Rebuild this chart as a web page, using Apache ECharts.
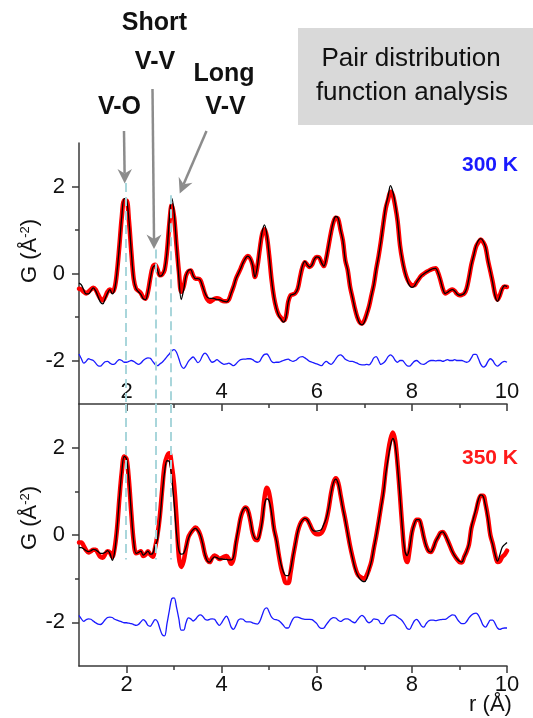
<!DOCTYPE html>
<html><head><meta charset="utf-8">
<script src="https://cdn.jsdelivr.net/npm/echarts@6/dist/echarts.min.js"></script>
<style>html,body{margin:0;padding:0;background:#fff}#c{width:533px;height:718px}</style>
</head><body><div id="c"></div>
<script>
// r grid (Å)
const R = [1,1.05,1.1,1.15,1.2,1.25,1.3,1.35,1.4,1.45,
1.5,1.55,1.6,1.65,1.7,1.75,1.8,1.85,1.9,1.95,
2,2.05,2.1,2.15,2.2,2.25,2.3,2.35,2.4,2.45,
2.5,2.55,2.6,2.65,2.7,2.75,2.8,2.85,2.9,2.95,
3,3.05,3.1,3.15,3.2,3.25,3.3,3.35,3.4,3.45,
3.5,3.55,3.6,3.65,3.7,3.75,3.8,3.85,3.9,3.95,
4,4.05,4.1,4.15,4.2,4.25,4.3,4.35,4.4,4.45,
4.5,4.55,4.6,4.65,4.7,4.75,4.8,4.85,4.9,4.95,
5,5.05,5.1,5.15,5.2,5.25,5.3,5.35,5.4,5.45,
5.5,5.55,5.6,5.65,5.7,5.75,5.8,5.85,5.9,5.95,
6,6.05,6.1,6.15,6.2,6.25,6.3,6.35,6.4,6.45,
6.5,6.55,6.6,6.65,6.7,6.75,6.8,6.85,6.9,6.95,
7,7.05,7.1,7.15,7.2,7.25,7.3,7.35,7.4,7.45,
7.5,7.55,7.6,7.65,7.7,7.75,7.8,7.85,7.9,7.95,
8,8.05,8.1,8.15,8.2,8.25,8.3,8.35,8.4,8.45,
8.5,8.55,8.6,8.65,8.7,8.75,8.8,8.85,8.9,8.95,
9,9.05,9.1,9.15,9.2,9.25,9.3,9.35,9.4,9.45,
9.5,9.55,9.6,9.65,9.7,9.75,9.8,9.85,9.9,9.95,
10];

// 300 K : measured G(r)
const data300 = [-0.35,-0.37,-0.42,-0.46,-0.42,-0.37,-0.33,-0.37,-0.48,-0.58,
-0.62,-0.54,-0.42,-0.37,-0.42,-0.33,0.05,0.65,1.3,1.68,
1.68,1.22,0.5,-0.12,-0.35,-0.4,-0.45,-0.55,-0.58,-0.42,
-0.1,0.15,0.2,0.1,-0.04,-0.02,0.08,0.5,1.15,1.58,
1.3,0.65,0.05,-0.42,-0.3,-0.05,0.05,0.07,-0.05,-0.12,
-0.12,-0.15,-0.3,-0.48,-0.6,-0.65,-0.62,-0.58,-0.57,-0.58,
-0.62,-0.64,-0.64,-0.6,-0.45,-0.3,-0.12,0.0,0.12,0.25,
0.35,0.4,0.35,0.2,-0.08,0.15,0.55,0.9,1.02,0.85,
0.4,-0.15,-0.55,-0.8,-0.95,-1.02,-1.08,-1.0,-0.65,-0.5,
-0.48,-0.45,-0.35,-0.08,0.15,0.26,0.2,0.15,0.2,0.33,
0.38,0.37,0.25,0.17,0.35,0.65,0.95,1.18,1.28,1.25,
1.0,0.75,0.3,0.08,-0.3,-0.55,-0.8,-1.0,-1.12,-1.15,
-1.08,-0.93,-0.75,-0.5,-0.25,0.1,0.4,0.75,1.15,1.5,
1.7,1.88,1.8,1.55,1.2,0.65,0.3,0.05,-0.12,-0.22,
-0.27,-0.27,-0.2,-0.12,-0.05,-0.01,0.03,0.06,0.09,0.11,
0.12,0.02,-0.15,-0.35,-0.46,-0.43,-0.39,-0.37,-0.4,-0.47,
-0.5,-0.49,-0.46,-0.35,-0.1,0.2,0.42,0.62,0.72,0.78,
0.72,0.6,0.3,0.05,-0.2,-0.48,-0.6,-0.5,-0.35,-0.3,
-0.31];

// 300 K : fit
const fit300 = [-0.22,-0.26,-0.38,-0.47,-0.47,-0.4,-0.33,-0.4,-0.53,-0.66,
-0.7,-0.58,-0.45,-0.37,-0.47,-0.36,0.05,0.65,1.32,1.72,
1.7,1.22,0.5,-0.12,-0.35,-0.42,-0.48,-0.58,-0.6,-0.42,
-0.12,0.13,0.18,0.08,-0.06,-0.03,0.1,0.5,1.25,1.73,
1.4,0.65,-0.1,-0.6,-0.38,-0.05,0.07,0.09,-0.05,-0.12,
-0.12,-0.15,-0.3,-0.45,-0.55,-0.57,-0.57,-0.58,-0.6,-0.6,
-0.62,-0.64,-0.65,-0.6,-0.45,-0.3,-0.12,0.0,0.12,0.25,
0.35,0.4,0.35,0.2,-0.08,0.15,0.58,0.95,1.12,0.9,
0.4,-0.15,-0.55,-0.8,-0.97,-1.05,-1.12,-1.02,-0.65,-0.5,
-0.48,-0.45,-0.35,-0.08,0.18,0.28,0.2,0.15,0.2,0.33,
0.38,0.37,0.25,0.17,0.35,0.65,0.95,1.2,1.31,1.27,
1.0,0.75,0.3,0.08,-0.3,-0.55,-0.8,-1.0,-1.14,-1.18,
-1.12,-0.95,-0.75,-0.5,-0.25,0.1,0.4,0.75,1.15,1.55,
1.78,2.02,1.88,1.6,1.2,0.65,0.3,0.05,-0.15,-0.28,
-0.32,-0.29,-0.2,-0.12,-0.05,-0.01,0.03,0.06,0.09,0.11,
0.12,0.02,-0.15,-0.35,-0.46,-0.43,-0.39,-0.37,-0.4,-0.47,
-0.5,-0.49,-0.46,-0.35,-0.1,0.2,0.42,0.64,0.76,0.8,
0.74,0.6,0.3,0.05,-0.22,-0.52,-0.64,-0.52,-0.35,-0.28,
-0.3];

// 300 K : difference (offset)
const diff300 = [-1.85,-1.96,-2.06,-2.02,-1.96,-1.98,-2.0,-2.06,-2.12,-2.13,
-2.08,-2.03,-2.02,-2.06,-2.09,-2.08,-2.02,-1.98,-2.0,-2.04,
-2.04,-2.02,-2.0,-2.02,-2.06,-2.09,-2.06,-2.0,-1.96,-1.94,
-1.95,-2.02,-2.09,-2.12,-2.08,-2.04,-1.98,-1.91,-1.85,-1.78,
-1.75,-1.81,-1.96,-2.12,-2.18,-2.12,-2.02,-1.96,-1.92,-1.98,
-2.05,-2.0,-1.88,-1.83,-1.88,-1.98,-2.04,-2.02,-1.98,-2.02,
-2.06,-2.09,-2.08,-2.06,-2.09,-2.12,-2.08,-2.02,-1.98,-1.97,
-1.97,-1.96,-1.96,-1.98,-2.02,-2.04,-2.02,-1.92,-1.86,-1.85,
-1.92,-2.02,-2.05,-2.04,-2.04,-2.02,-2.0,-1.98,-1.97,-2.0,
-2.02,-2.0,-1.96,-1.92,-1.91,-1.94,-1.98,-2.02,-2.04,-2.06,
-2.08,-2.1,-2.12,-2.06,-2.02,-2.06,-2.09,-2.04,-1.96,-1.89,
-1.87,-1.91,-1.97,-2.0,-2.02,-2.02,-2.04,-2.06,-2.09,-2.1,
-2.1,-2.09,-2.1,-2.04,-1.94,-1.91,-2.0,-2.09,-2.06,-2.0,
-1.91,-1.87,-1.91,-2.0,-2.04,-2.0,-2.0,-2.06,-2.12,-2.13,
-2.08,-2.02,-2.0,-2.04,-2.08,-2.09,-2.06,-2.02,-2.0,-2.0,
-2.01,-2.0,-2.0,-2.02,-2.0,-1.98,-2.0,-2.0,-1.98,-2.0,
-2.0,-2.0,-2.02,-2.04,-2.02,-1.94,-1.86,-1.86,-1.96,-2.09,
-2.15,-2.12,-2.02,-1.96,-2.0,-2.09,-2.13,-2.09,-2.04,-2.02,
-2.04];

// 350 K : measured G(r)
const data350 = [-0.17,-0.17,-0.25,-0.35,-0.4,-0.37,-0.34,-0.34,-0.42,-0.5,
-0.52,-0.44,-0.37,-0.4,-0.5,-0.3,0.15,0.85,1.45,1.8,
1.74,1.25,0.5,-0.15,-0.42,-0.4,-0.37,-0.48,-0.45,-0.37,
-0.45,-0.5,-0.29,0.0,0.43,1.05,1.6,1.8,1.87,1.6,
1.15,0.4,-0.5,-0.73,-0.6,-0.3,-0.05,0.05,0.12,0.17,
0.12,0.0,-0.2,-0.45,-0.58,-0.62,-0.52,-0.47,-0.5,-0.55,
-0.53,-0.5,-0.48,-0.55,-0.66,-0.55,-0.2,0.1,0.4,0.56,
0.63,0.57,0.35,0.05,-0.1,-0.12,0.05,0.35,0.85,1.08,
0.95,0.6,0.15,-0.1,-0.45,-0.75,-0.95,-1.1,-1.1,-0.85,
-0.5,-0.2,0.08,0.25,0.34,0.38,0.35,0.25,0.13,0.05,
0.02,0.02,0.05,0.15,0.33,0.6,0.95,1.2,1.3,1.2,
0.92,0.62,0.35,0.05,-0.25,-0.5,-0.72,-0.88,-0.95,-0.98,
-1.0,-0.92,-0.78,-0.6,-0.3,-0.02,0.3,0.65,1.0,1.5,
1.9,2.2,2.35,2.15,1.6,0.9,0.15,-0.45,-0.62,-0.35,
0.05,0.25,0.35,0.35,0.2,-0.05,-0.25,-0.37,-0.39,-0.3,
-0.15,-0.05,0.05,0.07,0.0,-0.12,-0.25,-0.38,-0.48,-0.56,
-0.62,-0.63,-0.5,-0.38,-0.22,0.15,0.35,0.55,0.78,0.9,
0.9,0.7,0.4,0.0,-0.2,-0.45,-0.62,-0.6,-0.5,-0.45,
-0.36];

// 350 K : fit
const fit350 = [-0.29,-0.29,-0.32,-0.36,-0.38,-0.36,-0.33,-0.34,-0.38,-0.42,
-0.42,-0.4,-0.36,-0.42,-0.58,-0.38,0.15,0.85,1.45,1.8,
1.74,1.25,0.5,-0.15,-0.42,-0.4,-0.37,-0.46,-0.42,-0.37,
-0.44,-0.42,-0.25,-0.1,0.35,0.95,1.45,1.7,1.68,1.3,
0.75,0.05,-0.35,-0.44,-0.42,-0.28,-0.08,0.05,0.12,0.15,
0.1,0.0,-0.2,-0.45,-0.6,-0.62,-0.55,-0.5,-0.52,-0.55,
-0.55,-0.56,-0.56,-0.57,-0.57,-0.5,-0.15,0.15,0.42,0.58,
0.63,0.57,0.35,0.06,-0.08,-0.1,0.0,0.3,0.7,0.83,
0.78,0.5,0.12,-0.12,-0.42,-0.68,-0.85,-0.93,-0.93,-0.78,
-0.48,-0.2,0.08,0.25,0.34,0.38,0.35,0.25,0.13,0.09,
0.09,0.1,0.13,0.25,0.38,0.62,0.95,1.2,1.28,1.18,
0.9,0.6,0.33,0.03,-0.27,-0.52,-0.75,-0.9,-1.0,-1.05,
-1.07,-1.0,-0.8,-0.6,-0.3,-0.02,0.3,0.62,0.95,1.4,
1.75,2.05,2.21,2.05,1.55,0.88,0.15,-0.35,-0.47,-0.3,
0.05,0.25,0.35,0.35,0.2,-0.05,-0.25,-0.37,-0.39,-0.3,
-0.15,-0.05,0.05,0.07,0.0,-0.12,-0.25,-0.38,-0.48,-0.55,
-0.6,-0.62,-0.5,-0.38,-0.2,0.18,0.4,0.6,0.82,0.92,
0.88,0.66,0.36,-0.02,-0.22,-0.45,-0.6,-0.45,-0.28,-0.22,
-0.17];

// 350 K : difference (offset)
const diff350 = [-1.84,-1.92,-1.98,-1.94,-1.92,-1.93,-1.97,-2.01,-2.04,-2.05,
-2.01,-1.94,-1.89,-1.88,-1.89,-1.93,-1.95,-1.97,-1.99,-2.01,
-2.01,-2.02,-2.03,-2.05,-2.07,-2.05,-1.99,-1.94,-1.98,-2.07,
-2.09,-2.01,-1.94,-1.98,-2.14,-2.28,-2.31,-2.03,-1.73,-1.46,
-1.44,-1.65,-1.92,-2.18,-2.18,-2.01,-1.9,-1.92,-1.97,-1.93,
-1.86,-1.83,-1.86,-1.93,-1.95,-1.93,-1.92,-1.93,-2.01,-2.07,
-2.01,-1.92,-1.86,-1.95,-2.11,-2.16,-2.07,-1.95,-1.92,-1.93,
-1.98,-1.99,-1.99,-2.01,-2.03,-2.04,-1.98,-1.84,-1.7,-1.67,
-1.77,-1.88,-1.93,-1.94,-1.96,-2.01,-2.07,-2.13,-2.13,-2.03,
-1.92,-1.88,-1.88,-1.9,-1.92,-1.93,-1.93,-1.93,-1.94,-1.98,
-2.03,-2.11,-2.14,-2.13,-2.05,-1.98,-1.92,-1.89,-1.9,-1.95,
-1.98,-1.95,-1.92,-1.92,-1.95,-1.99,-2.01,-1.95,-1.88,-1.84,
-1.88,-1.97,-2.01,-1.98,-1.92,-1.93,-1.95,-2.03,-2.03,-1.95,
-1.88,-1.84,-1.83,-1.84,-1.88,-1.92,-1.97,-2.05,-2.14,-2.16,
-2.07,-1.97,-1.93,-1.99,-2.08,-2.11,-2.03,-1.97,-1.95,-1.95,
-1.96,-1.95,-1.94,-1.93,-1.93,-1.9,-1.86,-1.83,-1.84,-1.92,
-1.99,-2.03,-2.03,-1.98,-1.9,-1.84,-1.8,-1.79,-1.84,-1.95,
-2.07,-2.11,-2.03,-1.95,-1.95,-2.03,-2.13,-2.16,-2.14,-2.13,
-2.13];

// axis ticks / labels
const xMajor = [2, 4, 6, 8, 10];
const xMinor = [3, 5, 7, 9];
const yMajor = [-2, 0, 2];
const yMinor = [-1, 1];

// guide positions (r of V-O, short V-V, long V-V) and their vertical spans
const guideR = [1.98, 2.61, 2.93];
const guideTopFrom = [2.08, 0.55, 1.8];
const guideBottomTo = -0.56;

const panelTemps = ['300 K', '350 K'];
const annotations = ['Short', 'V-V', 'Long', 'V-V', 'V-O'];
const boxLines = ['Pair distribution', 'function analysis'];

const FONT = '"Liberation Sans", Arial, sans-serif';
const AX = '#3a3a3a';
const GUIDE = '#a9d6db';
const ARROW = '#8c8c8c';

const chart = echarts.init(document.getElementById('c'), null, {renderer: 'canvas'});

function pairs(arr) { return R.map((r, i) => [r, arr[i]]); }

const grids = [
  {left: 79, right: 26, top: 143, height: 261, containLabel: false, outerBoundsMode: 'none'},
  {left: 79, right: 26, top: 404, height: 262, containLabel: false, outerBoundsMode: 'none'}
];

function xAxesFor(gi, topPanel) {
  return [{
    type: 'value', gridIndex: gi, min: 1, max: 10, interval: 1, position: 'bottom',
    axisLine: {show: true, onZero: false, lineStyle: {color: AX, width: 1.5}},
    axisTick: {show: true, customValues: xMajor, length: 7, inside: false, lineStyle: {color: AX, width: 1.5}},
    axisLabel: {show: true, customValues: xMajor, inside: topPanel, margin: topPanel ? 1 : 8,
      fontSize: 22, color: '#111', fontFamily: FONT},
    splitLine: {show: false}
  }, {
    type: 'value', gridIndex: gi, min: 1, max: 10, interval: 1, position: 'bottom',
    axisLine: {show: false, onZero: false},
    axisTick: {show: true, customValues: xMinor, length: 4, inside: false, lineStyle: {color: AX, width: 1.5}},
    axisLabel: {show: false}, splitLine: {show: false}
  }];
}
function yAxesFor(gi) {
  return [{
    type: 'value', gridIndex: gi, min: -3, max: 3, interval: 1, position: 'left',
    axisLine: {show: true, onZero: false, lineStyle: {color: AX, width: 1.5}},
    axisTick: {show: true, customValues: yMajor, length: 7, lineStyle: {color: AX, width: 1.5}},
    axisLabel: {show: true, customValues: yMajor, margin: 14, fontSize: 22, color: '#111', fontFamily: FONT},
    splitLine: {show: false}
  }, {
    type: 'value', gridIndex: gi, min: -3, max: 3, interval: 1, position: 'left',
    axisLine: {show: false, onZero: false},
    axisTick: {show: true, customValues: yMinor, length: 4, lineStyle: {color: AX, width: 1.5}},
    axisLabel: {show: false}, splitLine: {show: false}
  }];
}

function panelSeries(gi, data, fit, diff, guides) {
  const xi = gi * 2, yi = gi * 2;
  return [
    {type: 'line', xAxisIndex: xi, yAxisIndex: yi, data: [], z: 1, silent: true,
      markLine: {silent: true, symbol: ['none', 'none'], label: {show: false}, animation: false,
        lineStyle: {color: GUIDE, type: [9, 5], width: 2}, data: guides}},
    {type: 'line', xAxisIndex: xi, yAxisIndex: yi, data: pairs(diff), z: 2, smooth: 0.35,
      symbol: 'none', lineStyle: {color: '#1a1aff', width: 1.3}},
    {type: 'line', xAxisIndex: xi, yAxisIndex: yi, data: pairs(data), z: 3, smooth: 0.35,
      symbol: 'none', lineStyle: {color: '#ff0000', width: 4.5, cap: 'round', join: 'round'}},
    {type: 'line', xAxisIndex: xi, yAxisIndex: yi, data: pairs(fit), z: 4, smooth: 0.35,
      symbol: 'none', lineStyle: {color: '#000', width: 1.3}}
  ];
}

const guidesTop = guideR.map((r, i) => [{coord: [r, guideTopFrom[i]]}, {coord: [r, -3]}]);
const guidesBottom = guideR.map(r => [{coord: [r, 3]}, {coord: [r, guideBottomTo]}]);

function txt(x, y, text, size, weight, fill, extra) {
  return Object.assign({type: 'text', x: x, y: y, z: 10,
    style: {text: text, fontSize: size, fontWeight: weight, fontFamily: FONT, fill: fill,
      align: 'center', verticalAlign: 'middle'}}, extra || {});
}
function arrow(x1, y1, nx, ny, tip, left, right) {
  return [
    {type: 'line', z: 9, shape: {x1: x1, y1: y1, x2: nx, y2: ny}, style: {stroke: ARROW, lineWidth: 2.5}},
    {type: 'polygon', z: 9, shape: {points: [tip, left, [nx, ny], right]}, style: {fill: ARROW}}
  ];
}

const yTitle = (y) => ({type: 'text', x: 30, y: y, rotation: Math.PI / 2, z: 10,
  style: {text: 'G (Å{s|-2})', fontSize: 22, fontFamily: FONT, fill: '#111', align: 'center', verticalAlign: 'middle',
    rich: {s: {fontSize: 13, fontFamily: FONT, fill: '#111', verticalAlign: 'top', padding: [0, 0, 8, 0]}}}});

const graphics = [
  {type: 'rect', z: 8, shape: {x: 298, y: 28, width: 240, height: 97}, style: {fill: '#d9d9d9'}},
  txt(411, 59, boxLines[0], 26, 'normal', '#111'),
  txt(412, 93, boxLines[1], 26, 'normal', '#111'),
  txt(154.5, 23, annotations[0], 25, 'bold', '#111'),
  txt(155, 62, annotations[1], 25, 'bold', '#111'),
  txt(224, 74, annotations[2], 25, 'bold', '#111'),
  txt(225.5, 107, annotations[3], 25, 'bold', '#111'),
  txt(119.5, 107, annotations[4], 25, 'bold', '#111'),
  txt(490, 165.5, panelTemps[0], 21, 'bold', '#1a1aff'),
  txt(490, 458, panelTemps[1], 21, 'bold', '#ff1a1a'),
  txt(490.5, 705, 'r (Å)', 22, 'normal', '#111'),
  yTitle(251),
  yTitle(518)
].concat(
  arrow(124, 131, 124.6, 173.5, [124.7, 183.5], [117.5, 169], [132, 169]),
  arrow(152.5, 89, 154, 239, [154, 249], [146.5, 234.5], [161.5, 234.5]),
  arrow(206.5, 131, 183.6, 184.3, [179.7, 193.5], [192.5, 182.7], [178.7, 176.7])
);

chart.setOption({
  animation: false,
  backgroundColor: '#fff',
  grid: grids,
  xAxis: xAxesFor(0, true).concat(xAxesFor(1, false)),
  yAxis: yAxesFor(0).concat(yAxesFor(1)),
  series: panelSeries(0, data300, fit300, diff300, guidesTop)
    .concat(panelSeries(1, data350, fit350, diff350, guidesBottom)),
  graphic: graphics
});
</script>
</body></html>
